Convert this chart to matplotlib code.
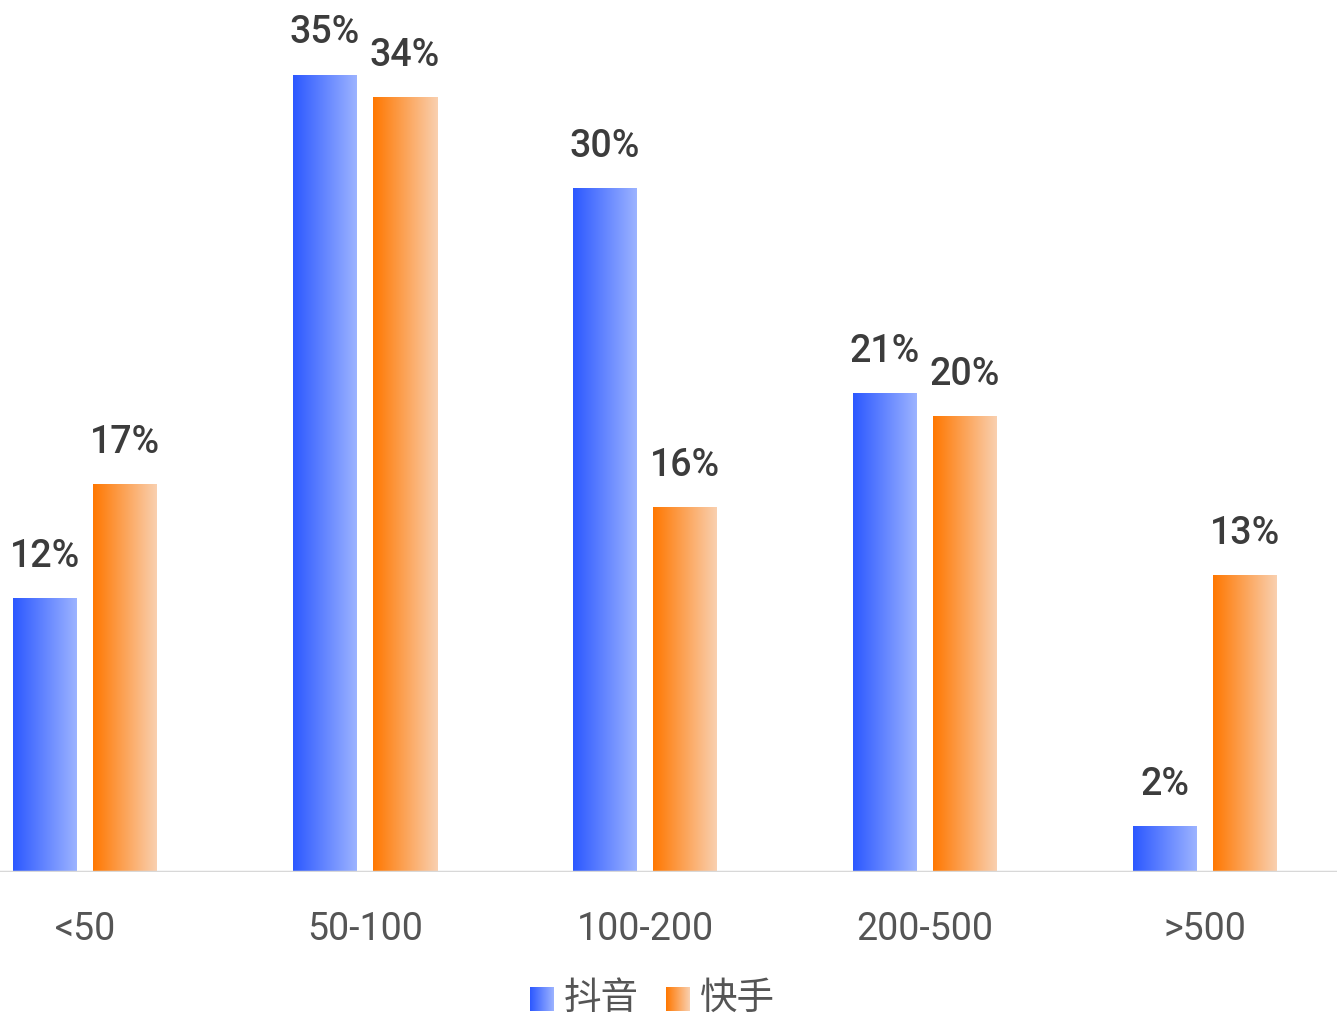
import numpy as np
import matplotlib.pyplot as plt
from matplotlib.colors import LinearSegmentedColormap

categories = ['<50', '50-100', '100-200', '200-500', '>500']
douyin = [12, 35, 30, 21, 2]
kuaishou = [17, 34, 16, 20, 13]
series_names = ['抖音', '快手']

blue_cmap = LinearSegmentedColormap.from_list('b', ['#2c58ff', '#9cb3ff'])
orange_cmap = LinearSegmentedColormap.from_list('o', ['#ff7700', '#f9d0b0'])
grad = np.linspace(0, 1, 256).reshape(1, -1)

plt.rcParams['font.family'] = ['Roboto', 'Noto Sans CJK SC', 'DejaVu Sans']

fig = plt.figure(figsize=(13.37, 10.16), dpi=100)
ax = fig.add_axes([0, 1 - 872 / 1016, 1, 872 / 1016])

x = np.arange(len(categories))
w = 64 / 280
off = 40 / 280
bars1 = ax.bar(x - off, douyin, w, color='none', zorder=2)
bars2 = ax.bar(x + off, kuaishou, w, color='none', zorder=2)

for bars, cmap in [(bars1, blue_cmap), (bars2, orange_cmap)]:
    for b in bars:
        x0, y0 = b.get_x(), b.get_y()
        ax.imshow(grad, cmap=cmap, aspect='auto', zorder=2,
                  extent=(x0, x0 + b.get_width(), y0, y0 + b.get_height()))
        ax.annotate(f'{b.get_height():.0f}%', (x0 + b.get_width() / 2, b.get_height()),
                    xytext=(0, 17), textcoords='offset points', ha='center', va='bottom',
                    fontsize=27, fontweight='medium', color='#3c3c3c')

ax.set_xlim(-85 / 280, (1337 - 85) / 280)
ax.set_ylim(0, 872 / (797 / 35))
ax.axhline(0, color='#d8d8d8', lw=2.5, zorder=3)
ax.set_xticks(x)
ax.set_xticklabels(categories, fontsize=27, color='#555555')
ax.tick_params(axis='x', length=0, pad=28)
ax.set_yticks([])
for s in ax.spines.values():
    s.set_visible(False)
ax.patch.set_alpha(0)

# legend
for i, (name, cmap) in enumerate(zip(series_names, [blue_cmap, orange_cmap])):
    lx = 530 + i * 136
    lax = fig.add_axes([lx / 1337, 1 - 1011 / 1016, 24 / 1337, 24 / 1016])
    lax.imshow(grad, cmap=cmap, aspect='auto')
    lax.axis('off')
    fig.text((lx + 34) / 1337, 1 - 998 / 1016, name, fontsize=27, color='#555555',
             va='center', ha='left', family=['Noto Sans CJK SC', 'DejaVu Sans'])

fig.savefig('out.png', dpi=100)
